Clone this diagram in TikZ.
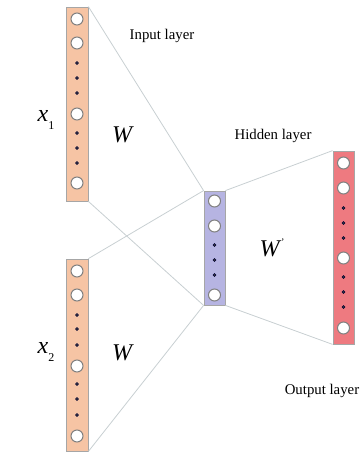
\documentclass[tikz,border=0pt]{standalone}
\usepackage{fontspec}
\setmainfont{Liberation Serif}
\begin{document}
\begin{tikzpicture}[x=1pt,y=-1pt,
  bar/.style={draw=black!35, line width=0.8pt, minimum width=22pt, inner sep=0pt},
  neuron/.style={circle, draw=black!50, fill=white, line width=1pt, minimum size=12pt, inner sep=0pt},
  dotn/.style={circle, draw=black!80!blue, fill=black!75, line width=0.5pt, minimum size=3pt, inner sep=0pt},
  link/.style={draw=cyan!20!black!25, line width=0.8pt},
  lbl/.style={font=\fontsize{14.8}{16}\selectfont, inner sep=0pt},
  mat/.style={font=\fontsize{24}{26}\selectfont\itshape, inner sep=0pt}]
\useasboundingbox (0,0) rectangle (360,453);
\definecolor{inc}{HTML}{F6C4A4}
\definecolor{hidc}{HTML}{B6B4E2}
\definecolor{outc}{HTML}{EE7A80}
% bars
\node[bar, fill=inc, minimum height=194pt] (b1) at (77,104) {};
\node[bar, fill=inc, minimum height=192pt] (b2) at (77,355) {};
\node[bar, fill=hidc, minimum width=21pt, minimum height=114pt] (hb) at (214.5,248) {};
\node[bar, fill=outc, minimum width=21pt, minimum height=193pt] (ob) at (343.5,247.5) {};
% connections
\draw[link] (b1.north east) -- (hb.north west);
\draw[link] (b1.south east) -- (hb.south west);
\draw[link] (b2.north east) -- (hb.north west);
\draw[link] (b2.south east) -- (hb.south west);
\draw[link] (hb.north east) -- (ob.north west);
\draw[link] (hb.south east) -- (ob.south west);
% input 1 neurons
\foreach \y [count=\i] in {19,43,114,183} \node[neuron] (a\i) at (77,\y) {};
\foreach \y [count=\i] in {63,78,93,133,148,163} \node[dotn] (ad\i) at (77,\y) {};
% input 2 neurons
\foreach \y [count=\i] in {271,295,366,436} \node[neuron] (b\i) at (77,\y) {};
\foreach \y [count=\i] in {315,329,345,384,399,415} \node[dotn] (bd\i) at (77,\y) {};
% hidden neurons
\foreach \y [count=\i] in {201,226,295} \node[neuron] (h\i) at (214.5,\y) {};
\foreach \y [count=\i] in {245,260,275} \node[dotn] (hd\i) at (214.5,\y) {};
% output neurons
\foreach \y [count=\i] in {163,188,258,328} \node[neuron] (o\i) at (343.5,\y) {};
\foreach \y [count=\i] in {208,223,238,277,292,307} \node[dotn] (od\i) at (343.5,\y) {};
% labels
\node[lbl] (lin) at (162,36) {Input layer};
\node[lbl] (lhid) at (273,136) {Hidden layer};
\node[lbl] (lout) at (322,391) {Output layer};
\node[mat] (w1) at (122,135) {W};
\node[mat] (w2) at (122,353) {W};
\node[mat] (w3) at (272,248) {W\kern1.5pt\raisebox{0.45em}{\fontsize{10}{10}\selectfont\upshape'}};
\node[mat] (x1) at (46,120) {x\raisebox{-0.3em}{\fontsize{12}{12}\selectfont\upshape 1}};
\node[mat] (x2) at (46,352) {x\raisebox{-0.3em}{\fontsize{12}{12}\selectfont\upshape 2}};
\end{tikzpicture}
\end{document}
